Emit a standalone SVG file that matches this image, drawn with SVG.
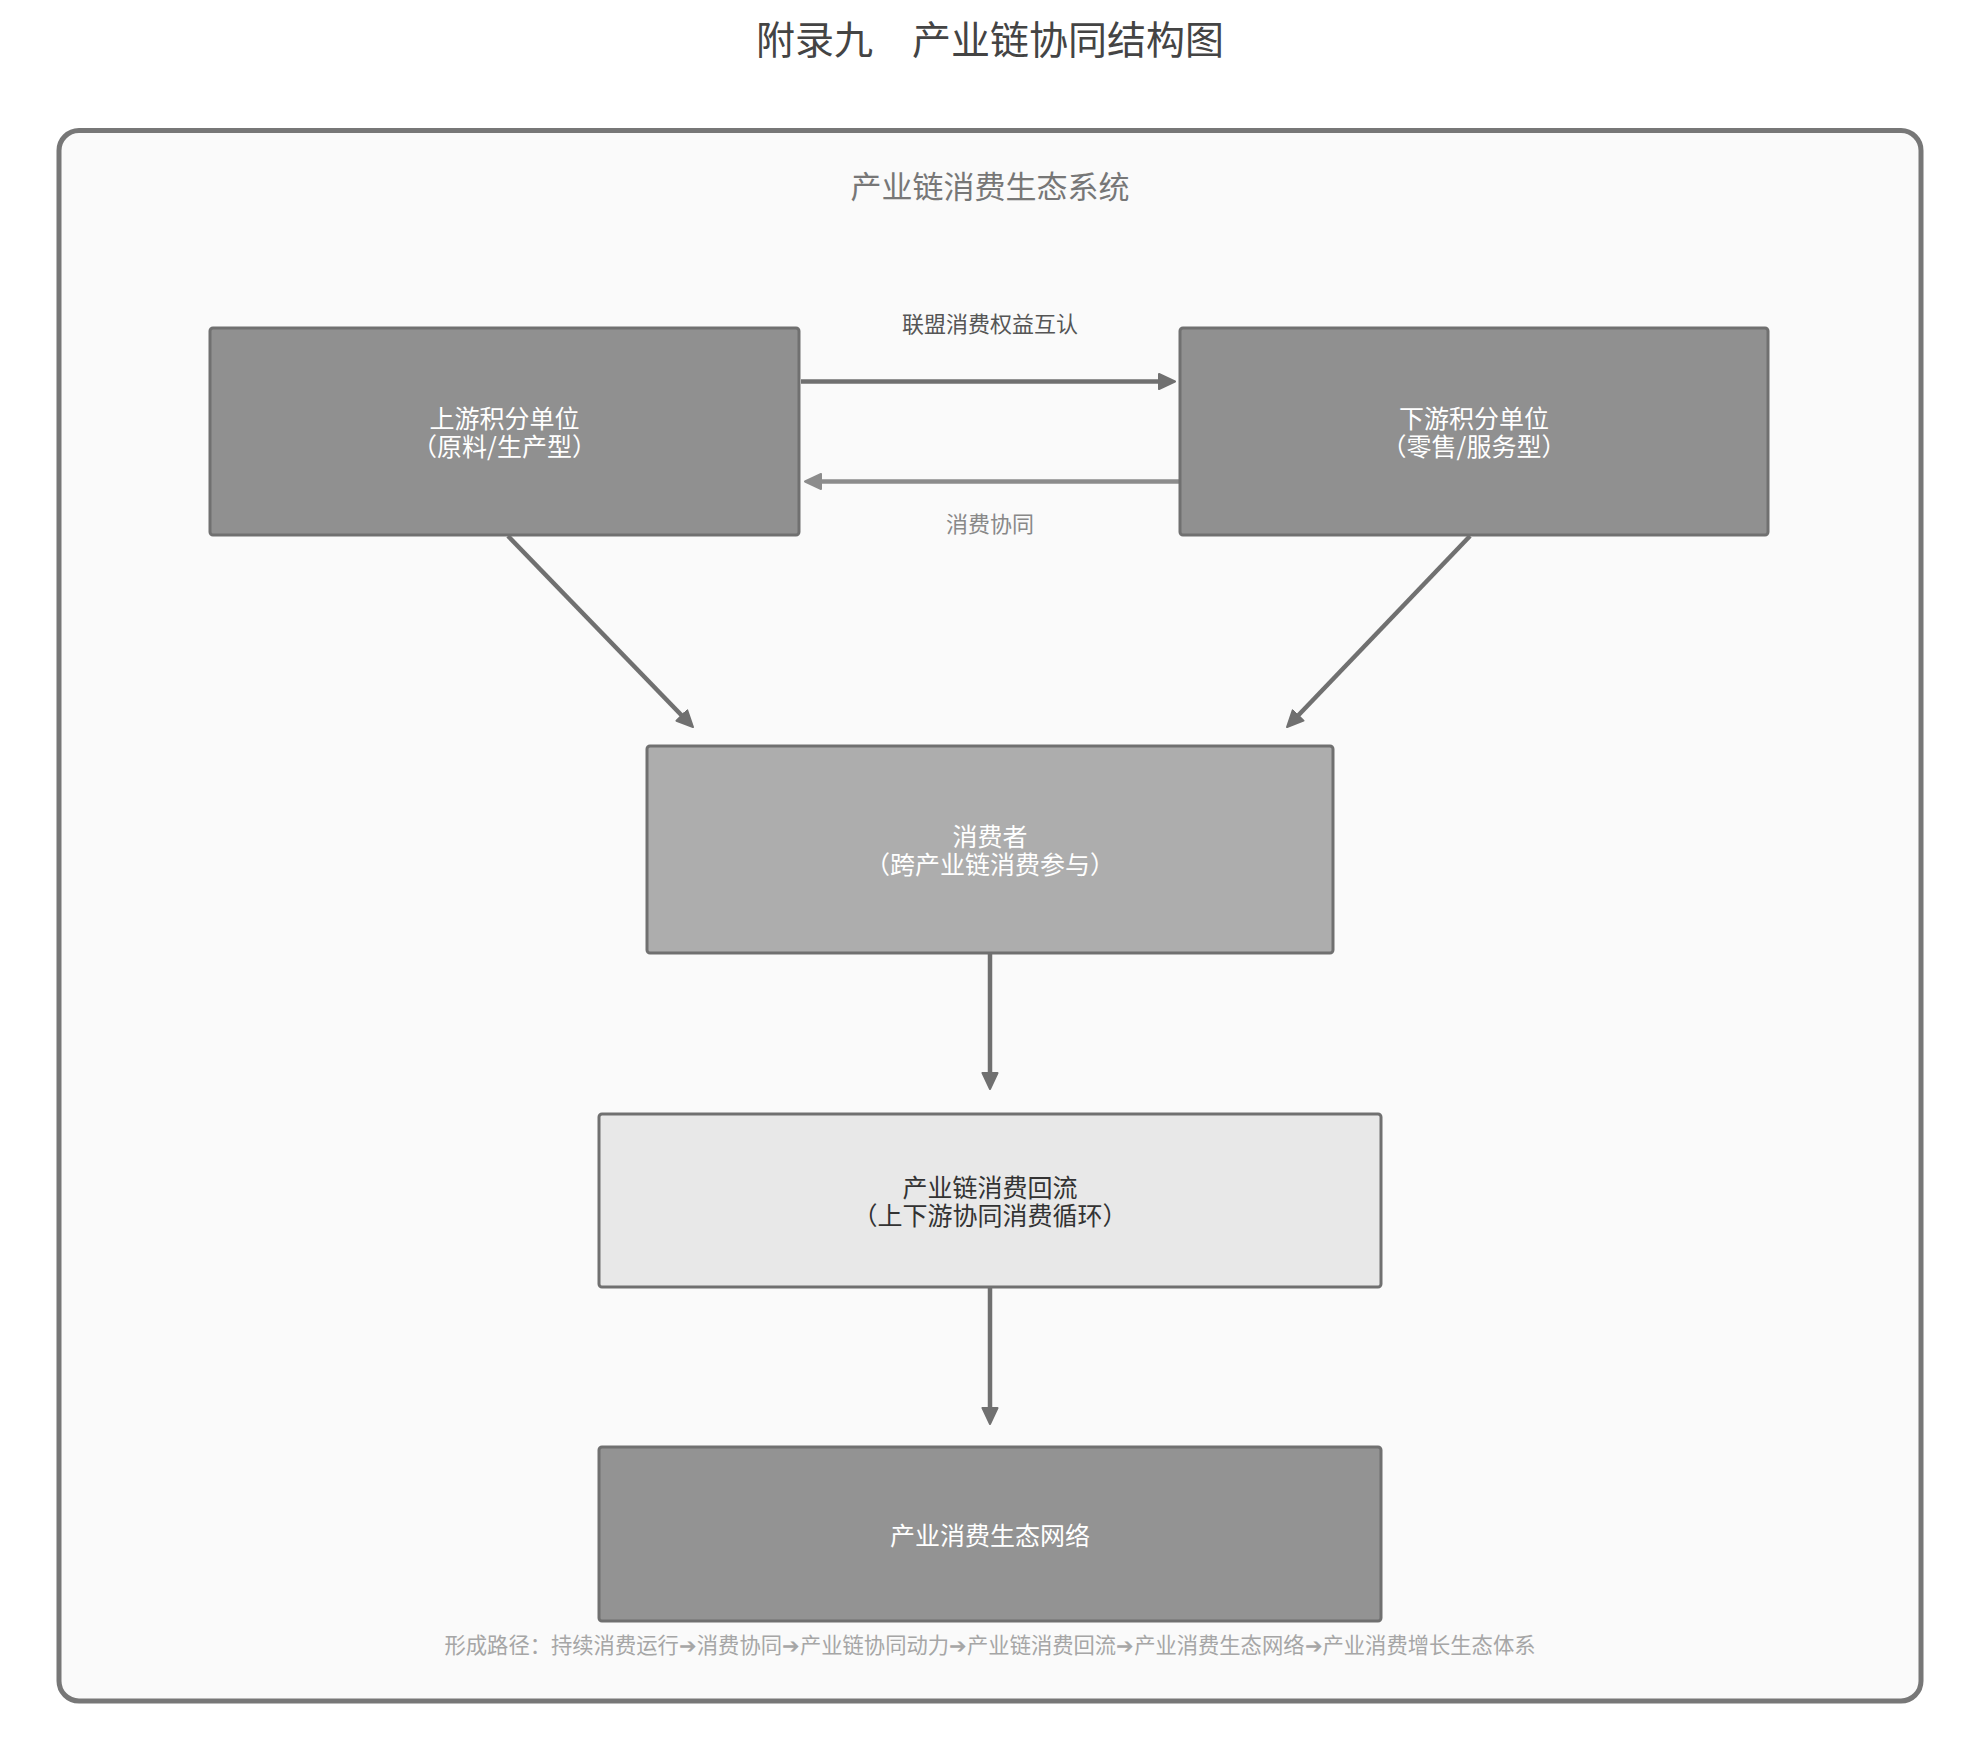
<svg xmlns="http://www.w3.org/2000/svg" width="1979" height="1755" viewBox="0 0 1979 1755">
<style>
text{font-family:"Noto Sans CJK SC","Noto Sans",sans-serif;text-anchor:middle}
.title{font-size:39px;fill:#444}
.sub{font-size:31px;fill:#777}
.lbl{font-size:22px}
.nt{font-size:25px;fill:#ffffff}
.ntd{font-size:25px;fill:#333333}
.foot{font-size:21.3px;fill:#a6a6a6}
.box{stroke:#707070;stroke-width:3}
.c{fill:none;stroke-width:4.5}
</style>
<defs>
<marker id="ad" markerUnits="userSpaceOnUse" markerWidth="18" markerHeight="18" viewBox="0 0 18 18" refX="11" refY="9" orient="auto">
<path d="M1,1.5 L17,9 L1,16.5 Z" fill="#707070" stroke="#707070" stroke-width="2" stroke-linejoin="round"/>
</marker>
<marker id="al" markerUnits="userSpaceOnUse" markerWidth="18" markerHeight="18" viewBox="0 0 18 18" refX="11" refY="9" orient="auto">
<path d="M1,1.5 L17,9 L1,16.5 Z" fill="#8c8c8c" stroke="#8c8c8c" stroke-width="2" stroke-linejoin="round"/>
</marker>
</defs>
<rect width="1979" height="1755" fill="#ffffff"/>
<text class="title" x="990" y="54">附录九　产业链协同结构图</text>
<g id="container">
<rect x="59" y="130.5" width="1862" height="1570.5" rx="20" fill="#fafafa" stroke="#777777" stroke-width="5"/>
<text class="sub" x="990" y="198">产业链消费生态系统</text>
</g>
<g id="connectors">
<line class="c" x1="801" y1="381.5" x2="1169" y2="381.5" stroke="#707070" marker-end="url(#ad)"/>
<line class="c" x1="1179" y1="481.5" x2="811" y2="481.5" stroke="#8c8c8c" marker-end="url(#al)"/>
<line class="c" x1="508" y1="536" x2="688.8" y2="722.7" stroke="#707070" marker-end="url(#ad)"/>
<line class="c" x1="1470" y1="536" x2="1291.2" y2="722.7" stroke="#707070" marker-end="url(#ad)"/>
<line class="c" x1="990" y1="954" x2="990" y2="1083" stroke="#707070" marker-end="url(#ad)"/>
<line class="c" x1="990" y1="1288" x2="990" y2="1418" stroke="#707070" marker-end="url(#ad)"/>
<text class="lbl" x="990" y="332" fill="#555555">联盟消费权益互认</text>
<text class="lbl" x="990" y="532" fill="#888888">消费协同</text>
</g>
<g id="upstream">
<rect class="box" x="210" y="328" width="589" height="207" rx="3" fill="#909090"/>
<text class="nt" x="504.5" y="427.5">上游积分单位</text>
<text class="nt" x="504.5" y="455.5">（原料/生产型）</text>
</g>
<g id="downstream">
<rect class="box" x="1180" y="328" width="588" height="207" rx="3" fill="#909090"/>
<text class="nt" x="1474" y="427.5">下游积分单位</text>
<text class="nt" x="1474" y="455.5">（零售/服务型）</text>
</g>
<g id="consumer">
<rect class="box" x="647" y="746" width="686" height="207" rx="3" fill="#adadad"/>
<text class="nt" x="990" y="845.5">消费者</text>
<text class="nt" x="990" y="873.5">（跨产业链消费参与）</text>
</g>
<g id="flow">
<rect class="box" x="599" y="1114" width="782" height="173" rx="3" fill="#e8e8e8"/>
<text class="ntd" x="990" y="1196.5">产业链消费回流</text>
<text class="ntd" x="990" y="1225">（上下游协同消费循环）</text>
</g>
<g id="network">
<rect class="box" x="599" y="1447" width="782" height="174" rx="3" fill="#939393"/>
<text class="nt" x="990" y="1545">产业消费生态网络</text>
</g>
<text class="foot" x="990" y="1652.5">形成路径：持续消费运行➔消费协同➔产业链协同动力➔产业链消费回流➔产业消费生态网络➔产业消费增长生态体系</text>
</svg>
